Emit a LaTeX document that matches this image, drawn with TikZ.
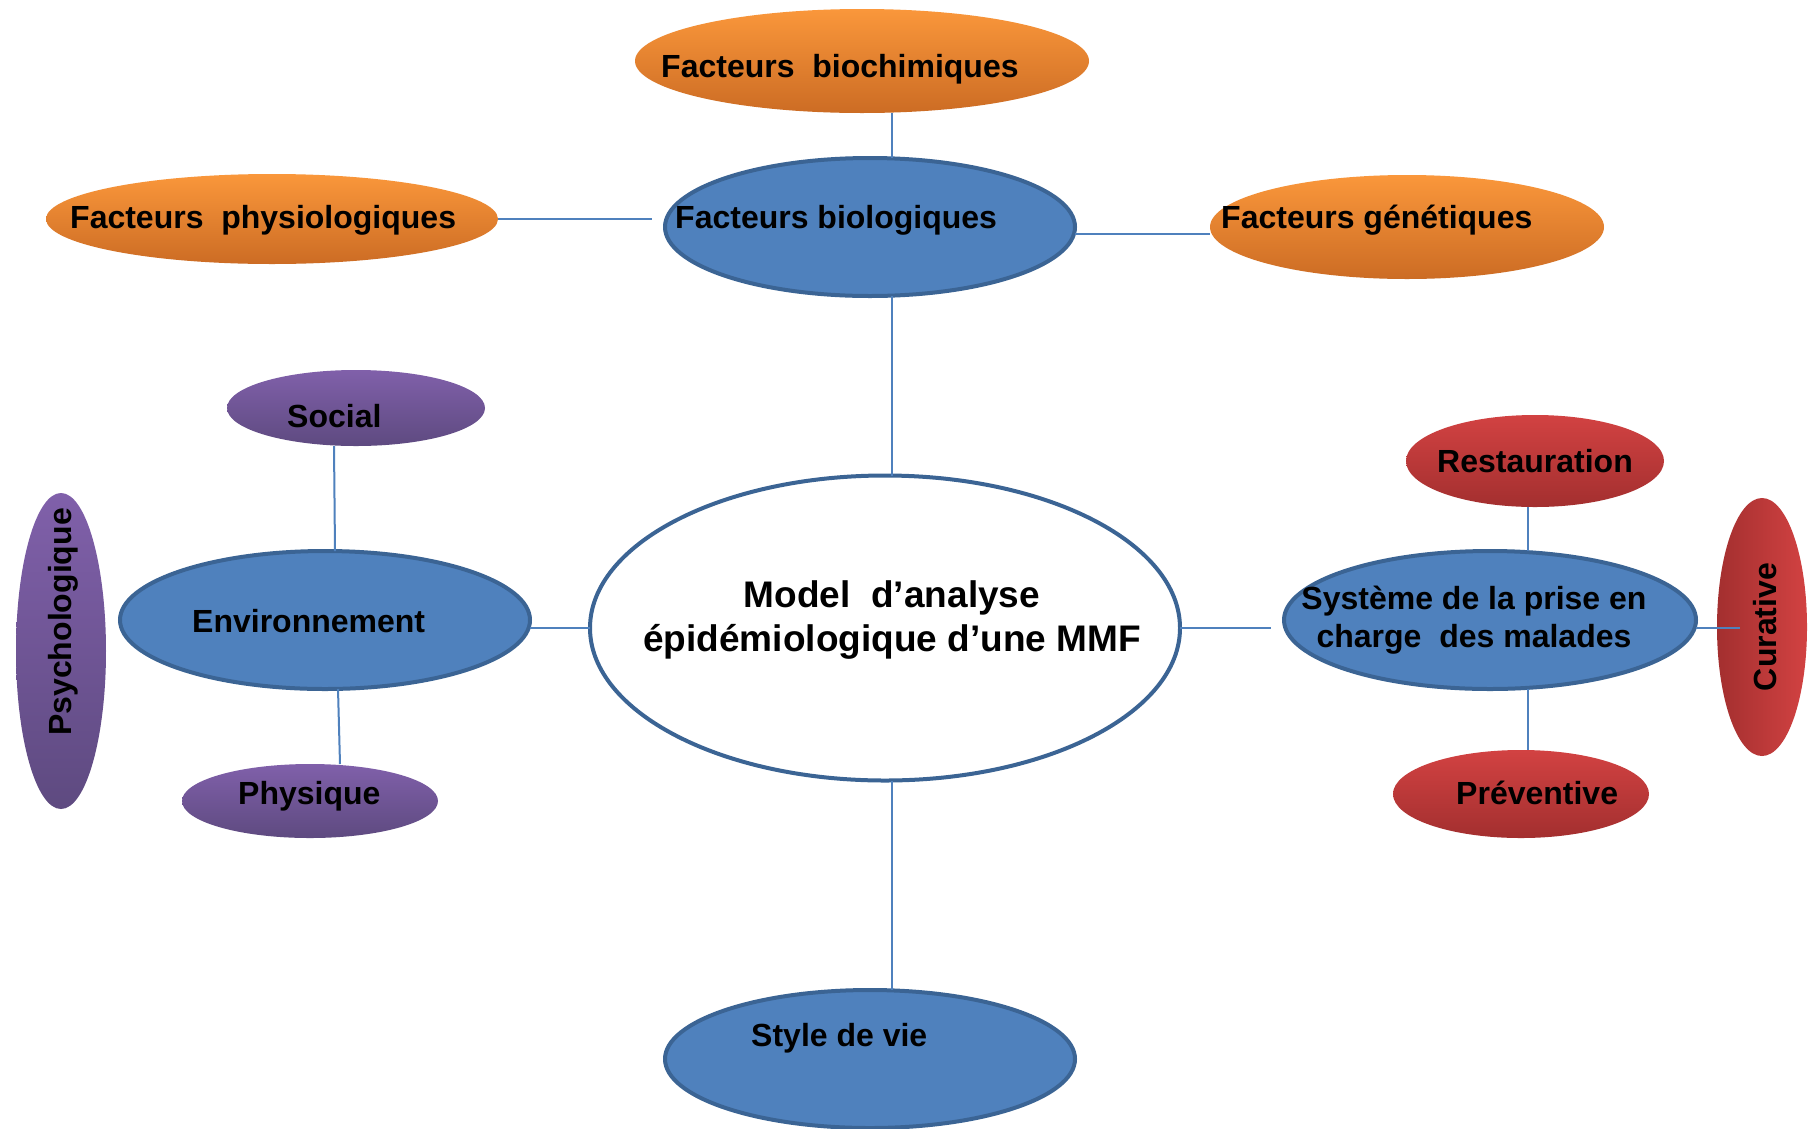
\documentclass[tikz,border=0pt]{standalone}
\usepackage{fontspec}
\setmainfont{Liberation Sans}
\usetikzlibrary{shapes.geometric}
\definecolor{bfill}{HTML}{4F81BD}
\definecolor{bborder}{HTML}{3B6494}
\definecolor{lineblue}{HTML}{4F81BD}
\definecolor{otop}{HTML}{FA973B}
\definecolor{obot}{HTML}{CC6C24}
\definecolor{ptop}{HTML}{8060AA}
\definecolor{pbot}{HTML}{5E4A80}
\definecolor{rtop}{HTML}{D24242}
\definecolor{rbot}{HTML}{A32F2F}
\begin{document}
\begin{tikzpicture}[x=1pt,y=-1pt,
  ell/.style={ellipse, inner sep=0pt, outer sep=0pt},
  blueell/.style={ell, fill=bfill, draw=bborder, line width=4pt},
  orangeell/.style={ell, top color=otop, bottom color=obot},
  purpleell/.style={ell, top color=ptop, bottom color=pbot},
  redell/.style={ell, top color=rtop, bottom color=rbot},
  txt/.style={font=\bfseries\fontsize{32}{38}\selectfont, inner sep=0pt, anchor=base west, text=black},
  rtxt/.style={font=\bfseries\fontsize{32}{38}\selectfont, inner sep=0pt, anchor=center, rotate=90, text=black},
  conn/.style={draw=lineblue, line width=2pt}]
\useasboundingbox (0,0) rectangle (1809,1128);
\fill[white] (0,0) rectangle (1809,1128);

% ellipses
\node[orangeell, minimum width=454pt, minimum height=104pt] (bc) at (862,61) {};
\node[blueell, minimum width=410pt, minimum height=138pt] (bio) at (870,227) {};
\node[orangeell, minimum width=452pt, minimum height=90pt] (phys) at (272,219) {};
\node[orangeell, minimum width=394pt, minimum height=104pt] (gen) at (1407,227) {};
\node[purpleell, minimum width=258pt, minimum height=76pt] (soc) at (356,408) {};
\node[blueell, minimum width=410pt, minimum height=138pt] (env) at (325,620) {};
\node[purpleell, minimum width=256pt, minimum height=74pt] (phy) at (310,801) {};
\node[purpleell, minimum width=90pt, minimum height=316pt] (psy) at (61,651) {};
\node[ell, fill=white, draw=bborder, line width=4pt, minimum width=590pt, minimum height=305pt] (main) at (885,628) {};
\node[blueell, minimum width=412pt, minimum height=138pt] (sys) at (1490,620) {};
\node[redell, minimum width=258pt, minimum height=92pt] (rest) at (1535,461) {};
\node[redell, minimum width=256pt, minimum height=88pt] (prev) at (1521,794) {};
\node[ell, left color=rbot, right color=rtop, minimum width=90pt, minimum height=258pt] (cur) at (1762,627) {};
\node[blueell, minimum width=410pt, minimum height=138pt] (style) at (870,1059) {};

% connectors
\coordinate (vtop) at ([xshift=7pt]main.north);
\coordinate (vbot) at ([xshift=7pt]main.south);
\draw[conn] (bc.south -| vtop) -- (bio.north -| vtop);
\draw[conn] (bio.south -| vtop) -- (vtop);
\draw[conn] (vbot) -- (vbot |- style.north);
\draw[conn] (phys.east) -- ([xshift=-13pt]bio.west |- phys.east);
\draw[conn] ([yshift=-7pt]bio.east) -- ([yshift=-7pt]gen.west);
\draw[conn] ([xshift=-22pt]soc.south) -- ([xshift=10pt]env.north);
\draw[conn] ([xshift=13pt]env.south) -- ([xshift=30pt]phy.north);
\draw[conn] (env.east |- main.west) -- (main.west);
\draw[conn] (main.east) -- ([xshift=-13pt]sys.west |- main.east);
\draw[conn] ([xshift=-7pt]rest.south) -- ([xshift=-7pt]rest.south |- sys.north);
\draw[conn] ([xshift=38pt]sys.south) -- ([xshift=38pt]sys.south |- prev.north);
\draw[conn] (sys.east |- main.east) -- ([xshift=23pt]cur.west |- main.east);

% texts
\node[txt] (bct) at (661,77) {Facteurs\ \ biochimiques};
\node[txt] (biot) at (675,228) {Facteurs biologiques};
\node[txt] (physt) at (70,228) {Facteurs\ \ physiologiques};
\node[txt] (gent) at (1221,228) {Facteurs génétiques};
\node[txt] (soct) at (287,427) {Social};
\node[txt] (envt) at (192,632) {Environnement};
\node[txt] (phyt) at (238,804) {Physique};
\node[rtxt] (psyt) at (63,622) {Psychologique};
\node[txt] (restt) at (1437,472) {Restauration};
\node[txt] (prevt) at (1456,804) {Préventive};
\node[rtxt] (curt) at (1765,627) {Curative};
\node[txt] (stylet) at (751,1046) {Style de vie};
\node[font=\bfseries\fontsize{32}{38}\selectfont, inner sep=0pt, align=center, anchor=base] (syst) at (1474,647) {Système de la prise en\\charge\ \ des malades};
\node[font=\bfseries\fontsize{37}{44}\selectfont, inner sep=0pt, align=center, anchor=base] (maint) at (892,651) {Model\ \ d’analyse\\épidémiologique d’une MMF};
\end{tikzpicture}
\end{document}
